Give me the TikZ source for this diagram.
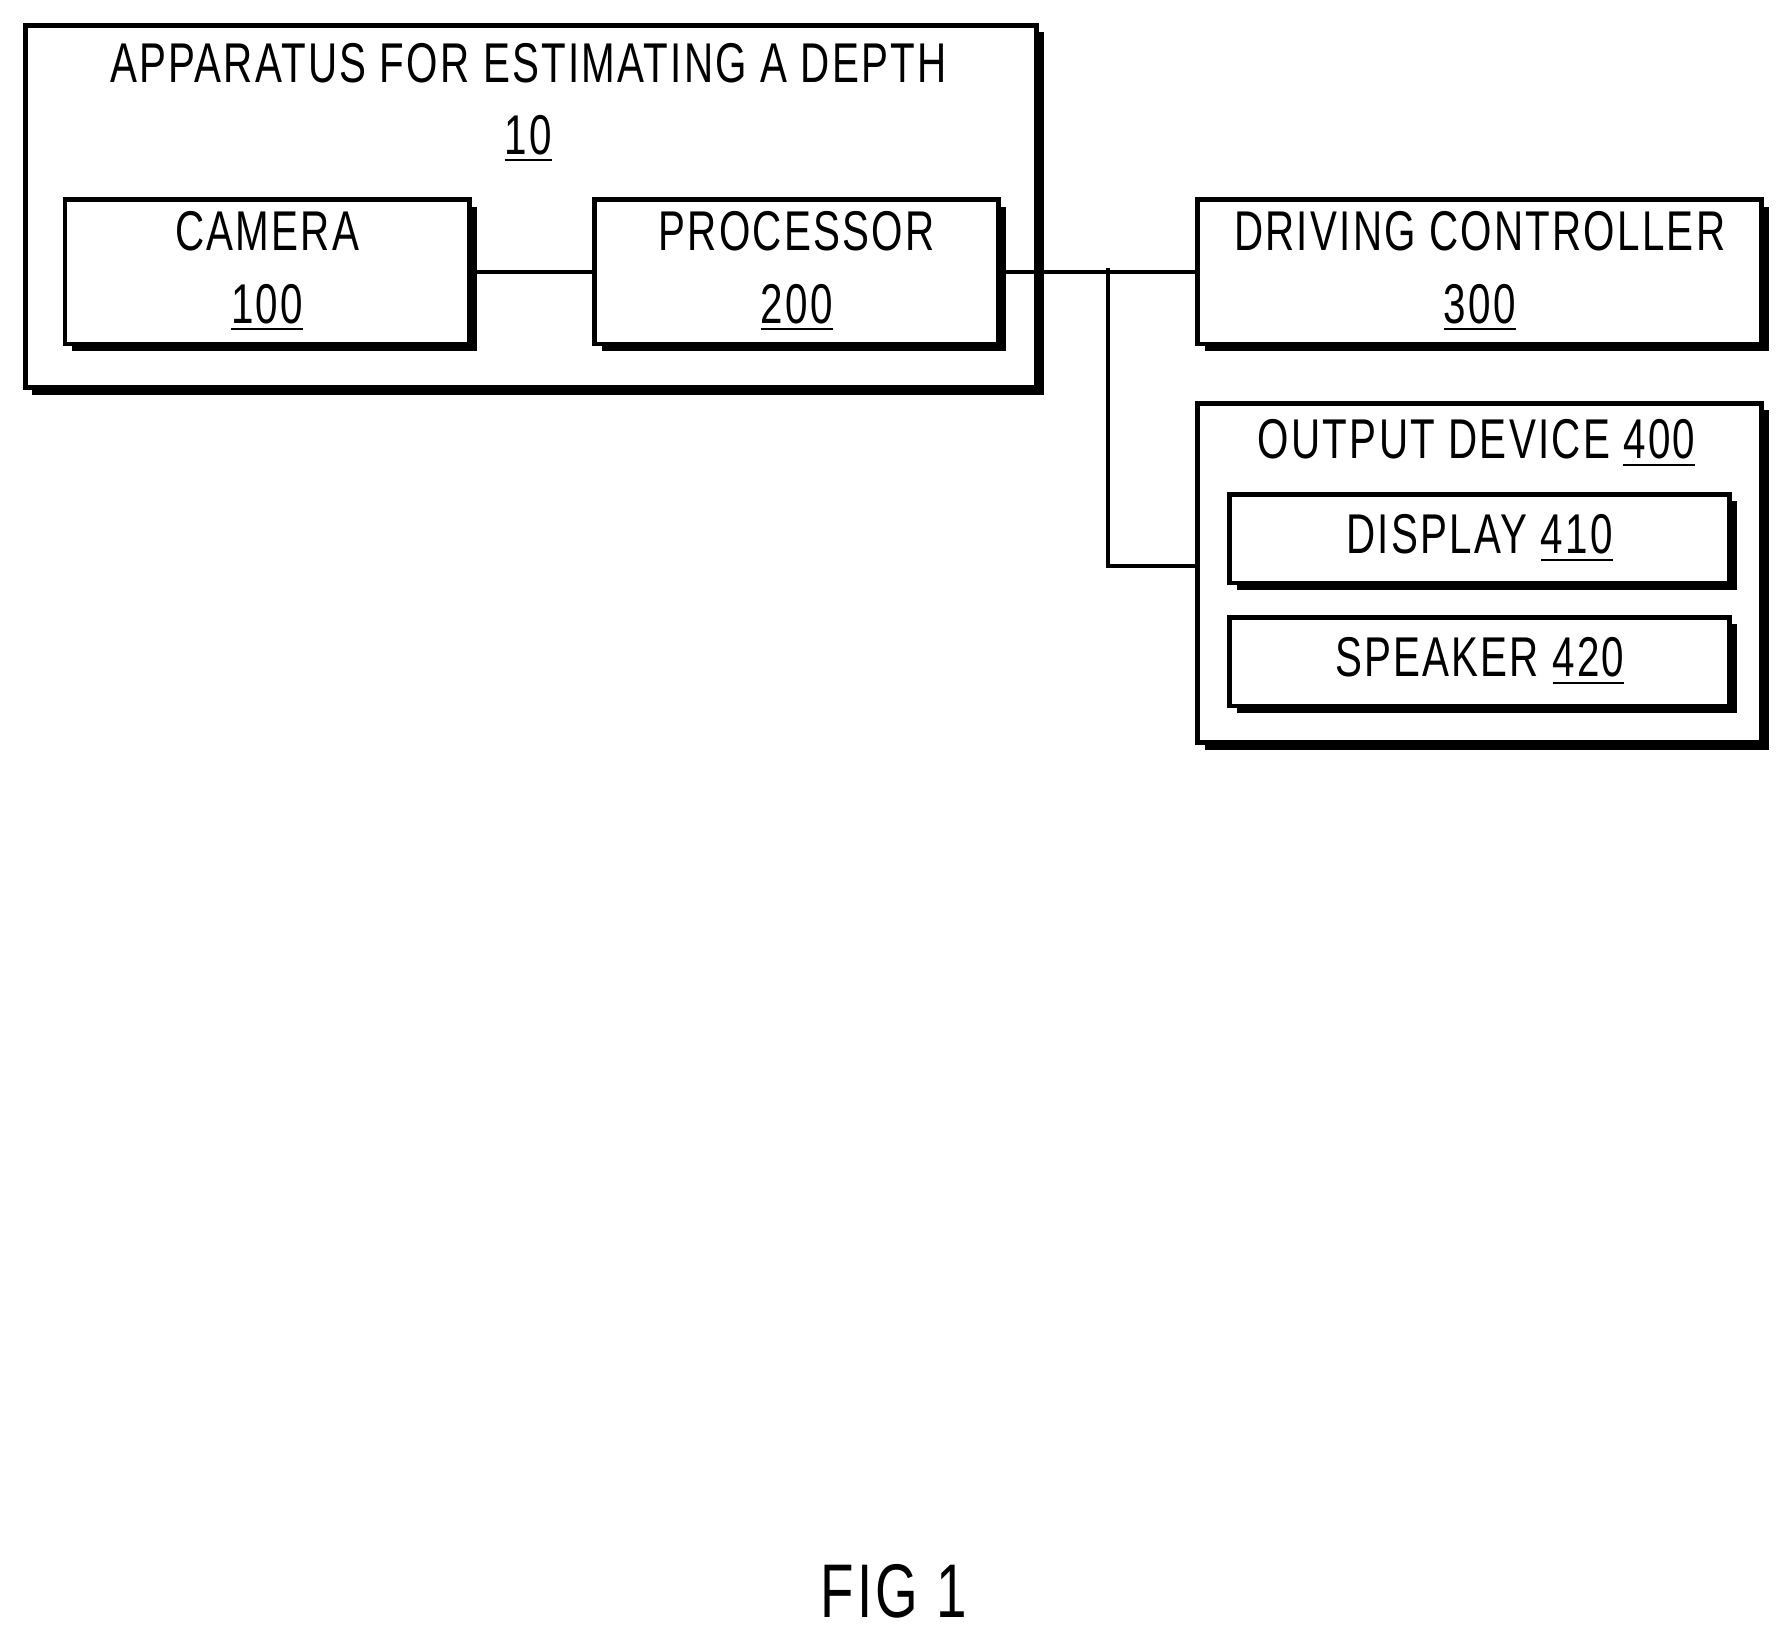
\documentclass[tikz,border=0pt]{standalone}
\usepackage{fontspec}
\setmainfont{Liberation Sans}[LetterSpace=4,FakeStretch=0.72]
\usetikzlibrary{shadows,positioning}
\tikzset{
	box/.style={draw,line width=1.2pt,fill=white,minimum width=#1,
		drop shadow={shadow xshift=1.8pt,shadow yshift=-1.8pt,opacity=1,fill=black}},
	lbl/.style={font=\fontsize{14}{15}\selectfont,align=center,inner sep=0pt},
	wire/.style={line width=1pt}
}
\begin{document}
\begin{tikzpicture}[x=0.01cm,y=-0.01cm]
  \useasboundingbox (0,0) rectangle (1560,1430);
  % apparatus 10
  \node[box, minimum width=8.88cm, minimum height=3.18cm, anchor=north west] (A) at (20,20) {};
  \node[lbl, anchor=north] (Alab) at (464,37) {APPARATUS FOR ESTIMATING A DEPTH\\[3pt]\underline{10}};
  \node[box, minimum width=3.55cm, minimum height=1.27cm, anchor=north west, lbl] (cam) at (55,173) {CAMERA\\[3pt]\underline{100}};
  \node[box, minimum width=3.55cm, minimum height=1.27cm, anchor=north west, lbl] (proc) at (520,173) {PROCESSOR\\[3pt]\underline{200}};
  % right side
  \node[box, minimum width=4.95cm, minimum height=1.27cm, anchor=north west, lbl] (drv) at (1050,173) {DRIVING CONTROLLER\\[3pt]\underline{300}};
  \node[box, minimum width=4.95cm, minimum height=2.98cm, anchor=north west] (out) at (1050,352) {};
  \node[lbl, anchor=north] (outlab) at (1297,368) {OUTPUT DEVICE \underline{400}};
  \node[box, minimum width=4.39cm, minimum height=0.78cm, anchor=north west, lbl] (disp) at (1078,432) {DISPLAY \underline{410}};
  \node[box, minimum width=4.39cm, minimum height=0.78cm, anchor=north west, lbl] (spk) at (1078,540) {SPEAKER \underline{420}};
  % wires
  \coordinate (jn) at (973,235);
  \draw[wire] (cam.east) -- (proc.east -| proc.west);
  \draw[wire] (proc.east) -- (drv.west);
  \draw[wire] (jn) |- (out.west |- 0,497);
  \node[lbl, font=\fontsize{19}{22}\selectfont] (fig) at (785,1398) {FIG 1};
\end{tikzpicture}
\end{document}
